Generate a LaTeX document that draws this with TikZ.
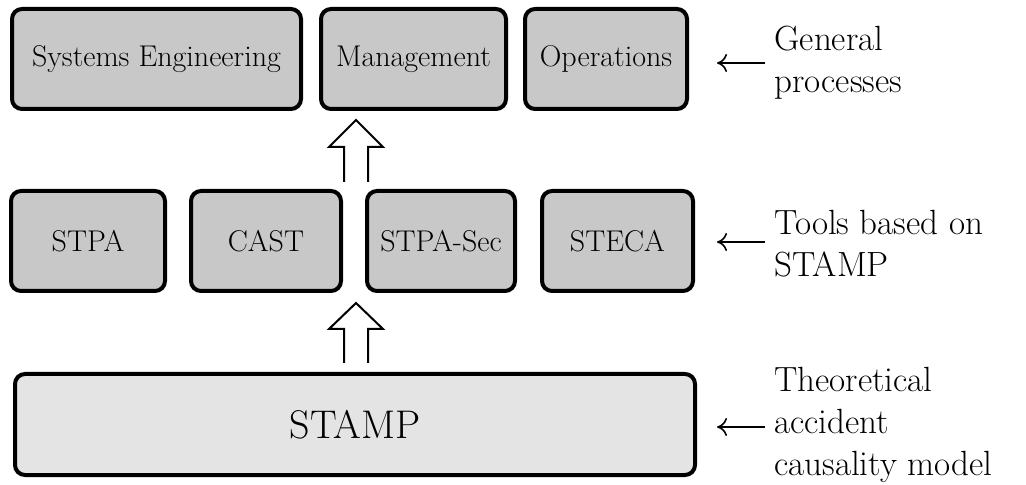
\documentclass[tikz,border=0pt]{standalone}
\usetikzlibrary{arrows.meta,calc}
\definecolor{boxgray}{RGB}{200,200,200}
\definecolor{stampgray}{RGB}{228,228,228}
\begin{document}
\begin{tikzpicture}[x=0.5pt,y=-0.5pt,
  box/.style={draw=black, line width=2pt, rounded corners=5pt, fill=boxgray, inner sep=0pt,
    minimum height=50pt, font=\fontsize{15}{18}\selectfont},
  bigbox/.style={box, fill=stampgray, font=\fontsize{20}{24}\selectfont},
  hollow/.style={draw=black, line width=1pt, line join=miter},
  pointer/.style={draw=black, line width=0.8pt, -{To[length=5pt,width=9pt]}},
  lab/.style={anchor=west, align=left, inner sep=0pt, font=\fontsize{17.5}{21}\selectfont}]
\useasboundingbox (0,0) rectangle (1026,485);
% top row
\node[box, minimum width=144.5pt] (se) at (156.5,59) {Systems Engineering};
\node[box, minimum width=92.5pt] (mg) at (413.5,59) {Management};
\node[box, minimum width=81pt] (op) at (606,59) {Operations};
% middle row
\node[box, minimum width=77pt] (stpa) at (88,241) {STPA};
\node[box, minimum width=75pt] (cast) at (266,241) {CAST};
\node[box, minimum width=74pt] (sec) at (441,241) {STPA-Sec};
\node[box, minimum width=75.5pt] (steca) at (617.5,241) {STECA};
% bottom
\node[bigbox, minimum width=340pt, minimum height=50.5pt] (stamp) at (355,424.5) {STAMP};
% hollow arrows
\coordinate (u1) at (356,182);
\coordinate (u2) at (356,363);
\draw[hollow] (u1) ++(-12,0) -- ++(0,-35) -- ++(-15,0) -- ++(27,-27) -- ++(27,27) -- ++(-15,0) -- ++(0,35);
\draw[hollow] (u2) ++(-12,0) -- ++(0,-34) -- ++(-15,0) -- ++(27,-26) -- ++(27,26) -- ++(-15,0) -- ++(0,34);
% pointers
\coordinate (p1s) at (765,63); \coordinate (p1e) at (717,63);
\coordinate (p2s) at (765,242); \coordinate (p2e) at (717,242);
\coordinate (p3s) at (765,427); \coordinate (p3e) at (717,427);
\draw[pointer] (p1s) -- (p1e);
\draw[pointer] (p2s) -- (p2e);
\draw[pointer] (p3s) -- (p3e);
\node[lab] (l1) at (774,63) {General\\processes};
\node[lab] (l2) at (774,244) {Tools based on\\STAMP};
\node[lab] (l3) at (774,425) {Theoretical\\accident\\causality model};
\end{tikzpicture}
\end{document}
